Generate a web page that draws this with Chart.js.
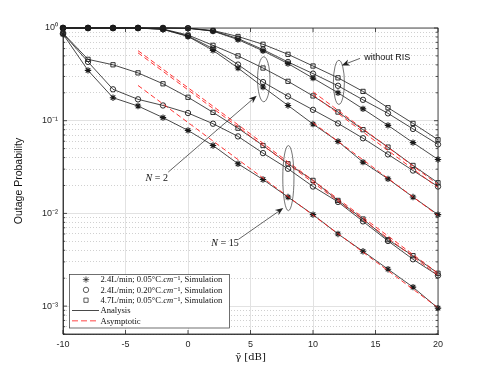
<!DOCTYPE html>
<html><head><meta charset="utf-8">
<script src="https://cdn.jsdelivr.net/npm/chart.js@4.4.1/dist/chart.umd.min.js"></script>
<style>html,body{margin:0;padding:0;background:#fff;}canvas{display:block;}</style>
</head><body>
<canvas id="c" width="485" height="376"></canvas>
<script>
// ---------- data ----------
const snrDb = [-10,-8,-6,-4,-2,0,2,4,6,8,10,12,14,16,18,20];

// without RIS
const noRisStar   = [1,1,1,1,1,0.993,0.925,0.75,0.567,0.413,0.288,0.200,0.134,0.089,0.058,0.0382];
const noRisCircle = [1,1,1,1,1,0.994,0.930,0.77,0.585,0.430,0.322,0.238,0.168,0.120,0.0815,0.0555];
const noRisSquare = [1,1,1,1,1,0.995,0.940,0.81,0.667,0.520,0.389,0.290,0.207,0.138,0.0935,0.0623];

// N = 2
const n2Star   = [1,1,1,1,0.965,0.81,0.574,0.370,0.231,0.146,0.092,0.0598,0.0357,0.0236,0.0150,0.0097];
const n2Circle = [1,1,1,1,0.970,0.82,0.600,0.403,0.261,0.183,0.131,0.0935,0.0647,0.0433,0.0290,0.0195];
const n2Square = [1,1,1,1,0.975,0.84,0.650,0.500,0.370,0.266,0.185,0.124,0.0800,0.0519,0.0329,0.0214];

// N = 15
const n15Star   = [0.86,0.349,0.177,0.144,0.108,0.0786,0.054,0.0343,0.0232,0.0150,0.0097,0.0060,0.0039,0.0025,0.0016,0.00095];
const n15Circle = [0.87,0.431,0.218,0.170,0.146,0.121,0.0928,0.0677,0.0447,0.0303,0.0195,0.0133,0.0082,0.00504,0.0032,0.00214];
const n15Square = [0.88,0.459,0.401,0.328,0.250,0.179,0.123,0.083,0.054,0.0343,0.0227,0.0138,0.0087,0.0052,0.0035,0.00226];

// asymptotes (straight lines in log scale: start / end)
const asymN15X = [-4, 20];
const asymN15Star   = [0.24, 0.00096];
const asymN15Circle = [0.54, 0.00215];
const asymN15Square = [0.57, 0.00227];
const asymN2X = [10, 20];
const asymN2Star   = [0.095, 0.0095];
const asymN2Circle = [0.19, 0.019];
const asymN2Square = [0.205, 0.0205];

const xTickValues = [-10,-5,0,5,10,15,20];
const yTickValues = [1e-3,1e-2,1e-1,1];
const yTickLabels = ['10⁻³','10⁻²','10⁻¹','10⁰'];
const legendLabels = [
  '2.4L/min; 0.05°C.cm⁻¹, Simulation',
  '2.4L/min; 0.20°C.cm⁻¹, Simulation',
  '4.7L/min; 0.05°C.cm⁻¹, Simulation',
  'Analysis',
  'Asymptotic'
];
const axisTitleX = 'γ̄ [dB]';
const axisTitleY = 'Outage Probability';
const annotationTexts = ['N = 2', 'N = 15', 'without RIS'];

// ---------- build ----------
const yMin = 5e-4, yMax = 1;
const yMinorValues = [];
for (let e = -4; e <= 0; e++) for (let m = 1; m <= 9; m++) {
  const v = m * Math.pow(10, e);
  if (v >= yMin * 0.999 && v <= yMax * 1.001) yMinorValues.push(v);
}

const BLACK = '#1a1a1a';
const RED = 'rgba(255,30,30,0.9)';
const SERIF = '"Liberation Serif", "DejaVu Serif", serif';
const markerStyles = {
  star:   {pointStyle: 'star',   pointRadius: 3.2, pointBorderWidth: 1.1},
  circle: {pointStyle: 'circle', pointRadius: 2.7, pointBorderWidth: 0.9},
  rect:   {pointStyle: 'rect',   pointRadius: 3.0, pointBorderWidth: 0.9}
};
function curve(vals, style) {
  return Object.assign({
    data: snrDb.map((x, i) => ({x, y: vals[i]})),
    borderColor: BLACK, borderWidth: 0.8, pointBorderColor: BLACK,
    pointBackgroundColor: 'rgba(0,0,0,0)', tension: 0, clip: 8, order: 2
  }, markerStyles[style]);
}
function asym(xs, vals) {
  return {
    data: xs.map((x, i) => ({x, y: vals[i]})),
    borderColor: RED, borderWidth: 1, borderDash: [5, 3], pointRadius: 0,
    tension: 0, order: 1
  };
}
const datasets = [
  asym(asymN15X, asymN15Square), asym(asymN15X, asymN15Circle), asym(asymN15X, asymN15Star),
  asym(asymN2X, asymN2Square), asym(asymN2X, asymN2Circle), asym(asymN2X, asymN2Star),
  curve(noRisStar, 'star'), curve(noRisCircle, 'circle'), curve(noRisSquare, 'rect'),
  curve(n2Star, 'star'), curve(n2Circle, 'circle'), curve(n2Square, 'rect'),
  curve(n15Star, 'star'), curve(n15Circle, 'circle'), curve(n15Square, 'rect')
];

// annotation geometry (data coordinates)
const ellipses = [
  {x: 6.06, yHi: 0.49, yLo: 0.16, rx: 6.2},
  {x: 8.03, yHi: 0.054, yLo: 0.0107, rx: 5.6},
  {x: 12.07, yHi: 0.448, yLo: 0.15, rx: 5.5}
];
const arrows = [
  {x0: -1.58, y0: 0.0279, x1: 5.5, y1: 0.186},
  {x0: 4.02, y0: 0.00523, x1: 7.62, y1: 0.0114},
  {x0: 13.76, y0: 0.47, x1: 12.3, y1: 0.395}
];
const labelsPos = [
  {x: -2.5, y: 0.0236},
  {x: 2.96, y: 0.0047},
  {x: 14.1, y: 0.479}
];

function drawArrow(ctx, x0, y0, x1, y1) {
  const ang = Math.atan2(y1 - y0, x1 - x0);
  const L = 8, W = 3.2;
  ctx.beginPath(); ctx.moveTo(x0, y0);
  ctx.lineTo(x1 - Math.cos(ang) * 5, y1 - Math.sin(ang) * 5); ctx.stroke();
  ctx.beginPath();
  ctx.moveTo(x1, y1);
  ctx.lineTo(x1 - L * Math.cos(ang) + W * Math.sin(ang), y1 - L * Math.sin(ang) - W * Math.cos(ang));
  ctx.lineTo(x1 - 5.5 * Math.cos(ang), y1 - 5.5 * Math.sin(ang));
  ctx.lineTo(x1 - L * Math.cos(ang) - W * Math.sin(ang), y1 - L * Math.sin(ang) + W * Math.cos(ang));
  ctx.closePath(); ctx.fill();
}

// draws "N = 2" with italic N
function drawMathLabel(ctx, text, cx, cy) {
  const first = text.charAt(0), rest = text.slice(1);
  ctx.font = 'italic 10px ' + SERIF;
  const w1 = ctx.measureText(first).width;
  ctx.font = '10px ' + SERIF;
  const w2 = ctx.measureText(rest).width;
  let x0 = cx - (w1 + w2) / 2;
  ctx.textAlign = 'left';
  ctx.font = 'italic 10px ' + SERIF; ctx.fillText(first, x0, cy);
  ctx.font = '10px ' + SERIF; ctx.fillText(rest, x0 + w1, cy);
}

// draws legend label with italic "cm"
function drawLegendLabel(ctx, text, x, y) {
  const k = text.indexOf('cm');
  const reg = '8.6px ' + SERIF, ita = 'italic 8.6px ' + SERIF;
  if (k < 0) { ctx.font = reg; ctx.fillText(text, x, y); return; }
  const parts = [[text.slice(0, k), reg], ['cm', ita], [text.slice(k + 2), reg]];
  parts.forEach(([t, f]) => { ctx.font = f; ctx.fillText(t, x, y); x += ctx.measureText(t).width; });
}

const decor = {
  id: 'decor',
  afterDraw(chart) {
    const {ctx, chartArea: a, scales: {x, y}} = chart;
    ctx.save();
    // frame
    ctx.strokeStyle = '#262626'; ctx.lineWidth = 0.8;
    ctx.strokeRect(a.left, a.top, a.right - a.left, a.bottom - a.top);
    // inner ticks
    ctx.beginPath();
    xTickValues.forEach(v => {
      const px = x.getPixelForValue(v);
      ctx.moveTo(px, a.bottom); ctx.lineTo(px, a.bottom - 4);
      ctx.moveTo(px, a.top); ctx.lineTo(px, a.top + 4);
    });
    yMinorValues.forEach(v => {
      const py = y.getPixelForValue(v);
      const e = Math.log10(v);
      const len = Math.abs(e - Math.round(e)) < 1e-9 ? 4 : 2.2;
      ctx.moveTo(a.left, py); ctx.lineTo(a.left + len, py);
      ctx.moveTo(a.right, py); ctx.lineTo(a.right - len, py);
    });
    ctx.stroke();

    // ellipses
    ctx.strokeStyle = '#3a3a3a'; ctx.lineWidth = 0.7;
    ellipses.forEach(el => {
      const cx = x.getPixelForValue(el.x);
      const t = y.getPixelForValue(el.yHi), b = y.getPixelForValue(el.yLo);
      ctx.beginPath();
      ctx.ellipse(cx, (t + b) / 2, el.rx, (b - t) / 2, 0, 0, Math.PI * 2);
      ctx.stroke();
    });
    // arrows
    ctx.strokeStyle = '#222'; ctx.fillStyle = '#222'; ctx.lineWidth = 0.7;
    arrows.forEach(ar => drawArrow(ctx,
      x.getPixelForValue(ar.x0), y.getPixelForValue(ar.y0),
      x.getPixelForValue(ar.x1), y.getPixelForValue(ar.y1)));
    // annotation texts
    ctx.fillStyle = '#111'; ctx.textBaseline = 'middle';
    labelsPos.forEach((lp, i) => {
      const px = x.getPixelForValue(lp.x), py = y.getPixelForValue(lp.y);
      if (i < 2) {
        drawMathLabel(ctx, annotationTexts[i], px, py);
      } else {
        ctx.font = '9px "Liberation Sans", Arial, sans-serif';
        ctx.textAlign = 'left';
        ctx.fillText(annotationTexts[i], px, py);
      }
    });

    // legend
    const bx = 69.5, by = 274.5, bw = 160, bh = 53.5;
    ctx.fillStyle = '#fff'; ctx.fillRect(bx, by, bw, bh);
    ctx.strokeStyle = '#333'; ctx.lineWidth = 0.7; ctx.strokeRect(bx, by, bw, bh);
    const rows = [279.6, 289.9, 300.2, 310.5, 320.8];
    const styles = ['star', 'circle', 'rect'];
    ctx.textAlign = 'left'; ctx.textBaseline = 'middle';
    rows.forEach((ry, i) => {
      if (i < 3) {
        const ms = markerStyles[styles[i]];
        ctx.strokeStyle = BLACK; ctx.fillStyle = 'rgba(0,0,0,0)';
        Chart.helpers.drawPoint(ctx, {pointStyle: ms.pointStyle, radius: ms.pointRadius, borderWidth: ms.pointBorderWidth, rotation: 0}, 86, ry);
      } else if (i === 3) {
        ctx.strokeStyle = BLACK; ctx.lineWidth = 0.8; ctx.setLineDash([]);
        ctx.beginPath(); ctx.moveTo(72, ry); ctx.lineTo(99, ry); ctx.stroke();
      } else {
        ctx.strokeStyle = 'rgba(255,90,90,0.75)'; ctx.lineWidth = 1.5; ctx.setLineDash([6, 3]);
        ctx.beginPath(); ctx.moveTo(72, ry); ctx.lineTo(99, ry); ctx.stroke();
        ctx.setLineDash([]);
      }
      ctx.fillStyle = '#111';
      drawLegendLabel(ctx, legendLabels[i], 100.5, ry + 0.5);
    });
    ctx.restore();
  }
};

Chart.defaults.font.family = '"Liberation Sans", Arial, sans-serif';
new Chart(document.getElementById('c'), {
  type: 'line',
  data: {datasets},
  options: {
    responsive: false, animation: false, devicePixelRatio: 1,
    layout: {padding: {left: 0, right: 47, top: 28, bottom: 0}},
    plugins: {legend: {display: false}, tooltip: {enabled: false}},
    elements: {line: {fill: false}},
    scales: {
      x: {
        type: 'linear', min: -10, max: 20,
        afterBuildTicks: s => { s.ticks = xTickValues.map(v => ({value: v})); },
        afterFit: s => { s.height = 42; },
        ticks: {font: {size: 9}, color: '#262626', padding: 5, maxRotation: 0, autoSkip: false},
        grid: {color: '#e2e2e2', lineWidth: 1, drawTicks: false},
        border: {color: '#262626', width: 0.8},
        title: {display: true, text: axisTitleX, color: '#111',
          font: {family: '"DejaVu Serif", "Liberation Serif", serif', size: 10},
          padding: {top: 0, bottom: 13}}
      },
      yMinor: {
        type: 'logarithmic', position: 'left', min: yMin, max: yMax,
        afterBuildTicks: s => { s.ticks = yMinorValues.filter(v => Math.abs(Math.log10(v) - Math.round(Math.log10(v))) > 1e-9).map(v => ({value: v})); },
        afterFit: s => { s.width = 0; },
        ticks: {display: false},
        grid: {color: '#c4c4c4', lineWidth: 0.8, drawTicks: false},
        border: {display: false, dash: [1, 2]}
      },
      y: {
        type: 'logarithmic', position: 'left', min: yMin, max: yMax,
        afterBuildTicks: s => { s.ticks = yTickValues.map(v => ({value: v})); },
        afterFit: s => { s.width = 63; },
        ticks: {font: {size: 9}, color: '#262626', padding: 5, autoSkip: false,
          callback: (v) => { const i = yTickValues.findIndex(t => Math.abs(t - v) / t < 1e-6); return i >= 0 ? yTickLabels[i] : ''; }},
        grid: {color: '#e2e2e2', lineWidth: 1, drawTicks: false},
        border: {color: '#262626', width: 0.8},
        title: {display: true, text: axisTitleY, color: '#111', font: {size: 10.5}, padding: {top: 13, bottom: 0}}
      }
    }
  },
  plugins: [decor]
});
</script>
</body></html>
